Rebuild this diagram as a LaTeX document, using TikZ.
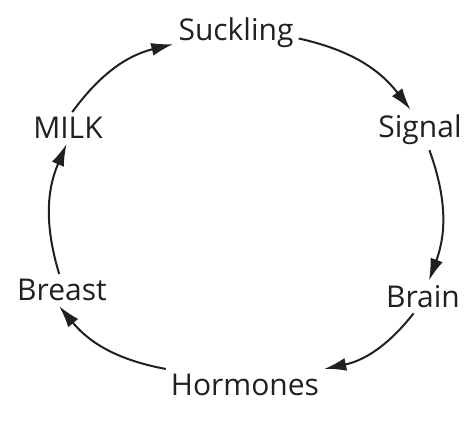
\documentclass[tikz,border=0pt]{standalone}
\usepackage{fontspec}
\setmainfont{Open Sans}
\usetikzlibrary{arrows.meta}
\definecolor{ink}{HTML}{231F20}
\tikzset{
  stage/.style={font=\fontsize{30}{33}\selectfont, text=ink, inner sep=5pt},
  cyc/.style={draw=ink, line width=2pt, -{Latex[length=22pt,width=13pt]}, bend left=20}
}
\begin{document}
\begin{tikzpicture}[x=1pt,y=1pt]
\useasboundingbox (0,0) rectangle (465,423);
\node[stage] (suck) at (236,390) {Suckling};
\node[stage] (sig) at (420,293) {Signal};
\node[stage] (brain) at (423,126) {Brain};
\node[stage] (horm) at (245,38) {Hormones};
\node[stage] (breast) at (62,133) {Breast};
\node[stage] (milk) at (68,295) {MILK};
\draw[cyc] (suck.-5) to (sig.115);
\draw[cyc] (sig.-65) to (brain.70);
\draw[cyc] (brain.-120) to (horm.north east);
\draw[cyc] (horm.north west) to (breast.-100);
\draw[cyc] (breast.100) to (milk.-95);
\draw[cyc] (milk.75) to (suck.190);
\end{tikzpicture}
\end{document}
